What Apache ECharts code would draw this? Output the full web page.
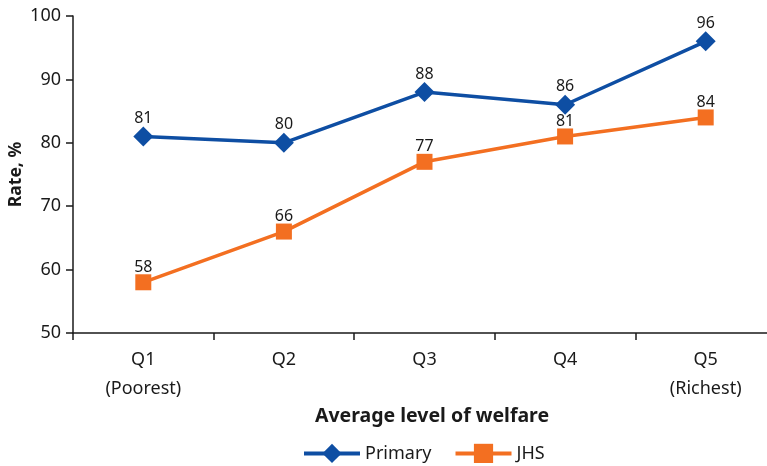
<!DOCTYPE html>
<html>
<head>
<meta charset="utf-8">
<script src="https://cdn.jsdelivr.net/npm/echarts@6/dist/echarts.min.js"></script>
<style>
  html, body { margin: 0; padding: 0; background: #fff; }
  #chart { width: 767px; height: 466px; }
</style>
</head>
<body>
<div id="chart"></div>
<script>
// Enrolment rate by welfare quintile
const categories = ['Q1\n(Poorest)', 'Q2', 'Q3', 'Q4', 'Q5\n(Richest)'];
const primaryRates = [81, 80, 88, 86, 96];
const jhsRates = [58, 66, 77, 81, 84];
const yTicks = { min: 50, max: 100, step: 10 };

const FONT = 'Noto Sans';
const INK = '#1a1a1a';
const chart = echarts.init(document.getElementById('chart'));

chart.setOption({
  animation: false,
  textStyle: { fontFamily: FONT, color: INK },
  grid: { left: 73, top: 16, bottom: 133, right: -9, containLabel: false, outerBoundsMode: 'none' },
  title: {
    text: 'Average level of welfare',
    left: 427,
    top: 401,
    textAlign: 'center',
    textStyle: { fontFamily: FONT, fontSize: 19.5, fontWeight: 'bold', color: INK }
  },
  legend: {
    bottom: -2,
    left: 297,
    itemWidth: 56,
    itemHeight: 24,
    itemGap: 22,
    lineStyle: { width: 4 },
    textStyle: { fontFamily: FONT, fontSize: 18, color: INK },
    data: ['Primary', 'JHS']
  },
  xAxis: {
    type: 'category',
    data: categories,
    boundaryGap: true,
    axisLine: { lineStyle: { color: INK, width: 1.5 } },
    axisTick: { show: true, length: 7, alignWithLabel: false, lineStyle: { color: INK, width: 1.5 } },
    axisLabel: { fontSize: 18, color: INK, lineHeight: 29, margin: 12, fontFamily: FONT }
  },
  yAxis: {
    type: 'value',
    min: yTicks.min,
    max: yTicks.max,
    interval: yTicks.step,
    name: 'Rate, %',
    nameLocation: 'middle',
    nameGap: 48,
    nameMoveOverlap: false,
    nameRotate: 90,
    nameTextStyle: { fontSize: 17.5, fontWeight: 'bold', color: INK, fontFamily: FONT },
    splitLine: { show: false },
    axisLine: { show: true, lineStyle: { color: INK, width: 1.5 } },
    axisTick: { show: true, length: 7, lineStyle: { color: INK, width: 1.5 } },
    axisLabel: { fontSize: 18, color: INK, margin: 12, fontFamily: FONT }
  },
  series: [
    {
      name: 'Primary',
      type: 'line',
      data: primaryRates,
      symbol: 'diamond',
      symbolSize: 20,
      color: '#0e4ea3',
      lineStyle: { width: 3.5, color: '#0e4ea3' },
      itemStyle: { color: '#0e4ea3' },
      label: { show: true, position: 'top', distance: 0, fontSize: 16, color: INK, fontFamily: FONT }
    },
    {
      name: 'JHS',
      type: 'line',
      data: jhsRates,
      symbol: 'rect',
      symbolSize: 16,
      color: '#f36f21',
      lineStyle: { width: 3.5, color: '#f36f21' },
      itemStyle: { color: '#f36f21' },
      label: { show: true, position: 'top', distance: -1, fontSize: 16, color: INK, fontFamily: FONT }
    }
  ]
});
</script>
</body>
</html>
